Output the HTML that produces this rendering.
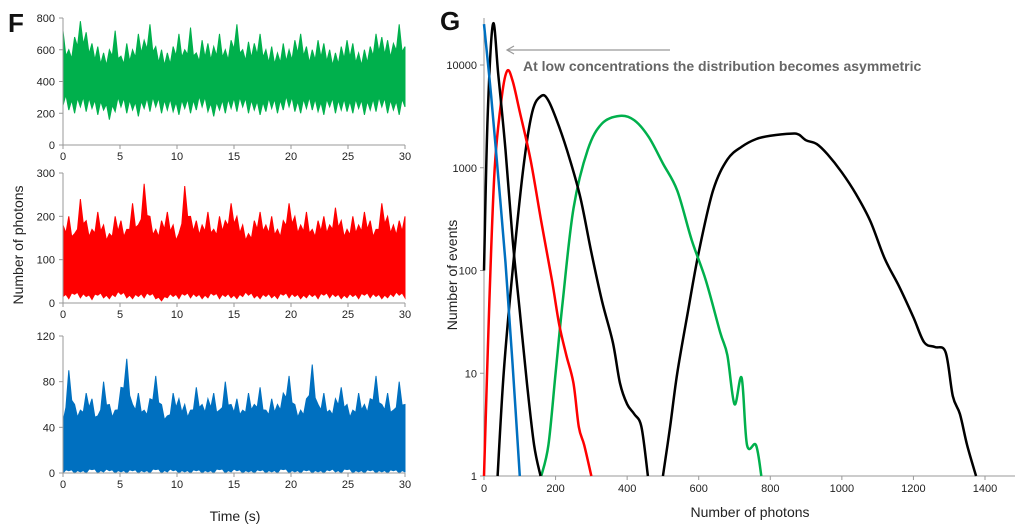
<!DOCTYPE html>
<html><head><meta charset="utf-8"><style>
body{margin:0;background:#fff;width:1024px;height:531px;overflow:hidden}
svg{display:block;font-family:"Liberation Sans",sans-serif}
</style></head><body>
<svg id="c" width="1024" height="531"></svg>
<script>
// ---- Panel F data (envelopes of time traces) ----
const timeTicks=[0,5,10,15,20,25,30];
const greenHi=[720,600,680,780,710,640,620,580,600,720,560,640,600,700,660,760,620,600,580,620,700,600,740,580,660,640,620,700,600,660,760,600,650,640,700,600,620,580,640,600,660,700,620,600,660,640,600,580,620,660,640,580,600,620,700,680,660,640,760,620];
const greenLo=[250,220,200,240,210,230,190,220,160,210,240,200,220,180,230,210,240,200,220,210,190,230,200,220,240,210,180,220,200,230,210,240,200,220,190,210,230,200,220,240,210,200,230,220,210,190,240,200,220,210,200,230,190,220,210,240,200,220,190,240];
const redHi=[180,200,160,240,190,170,210,180,160,200,190,170,230,180,275,200,170,190,210,180,160,270,200,190,180,210,170,200,190,230,200,180,160,190,210,180,200,170,190,230,200,180,210,170,190,200,180,220,190,170,200,180,210,190,170,230,200,180,190,200];
const redLo=[15,10,20,12,15,8,18,12,10,15,20,12,10,15,12,18,10,5,12,15,10,18,12,15,10,12,18,10,15,12,10,15,18,12,10,15,12,10,18,12,15,10,12,15,10,18,12,15,10,12,15,10,18,12,15,10,12,15,18,12];
const blueHi=[45,90,60,55,70,65,50,80,60,55,75,100,60,70,55,65,85,60,50,70,65,60,55,75,60,65,70,55,80,60,65,55,70,60,75,55,65,60,70,85,60,55,65,95,60,70,55,65,75,60,55,70,60,65,85,60,70,55,80,60];
const blueLo=[0,2,0,1,0,3,0,1,2,0,1,0,2,0,1,0,3,0,1,2,0,1,0,2,0,1,0,3,0,1,2,0,1,0,2,0,1,0,3,0,1,0,2,0,1,0,2,1,0,3,0,1,0,2,0,1,0,2,0,1];
// ---- Panel G data (histograms, log scale) ----
const blueX=[0,20,40,60,80,100];
const blueY=[25000,5000,800,120,12,1];
const black1X=[0,10,25,40,60,80,100,120,140,158];
const black1Y=[100,3000,25000,8000,1500,200,40,8,2,1];
const redX=[0,15,30,50,65,80,100,130,160,190,210,230,250,265,280,300];
const redY=[1,50,1000,5000,8800,7000,3500,1200,300,80,30,15,8,3,2,1];
const black2X=[38,55,80,110,135,160,180,210,240,270,300,330,360,380,400,420,440,458];
const black2Y=[1,10,100,1000,3500,5000,4500,2500,1200,500,150,50,20,8,5,4,3,1];
const greenX=[160,180,200,220,250,290,330,380,420,460,500,540,580,620,660,680,700,720,735,760,775];
const greenY=[1,2,10,50,400,1500,2700,3200,2900,2000,1100,600,200,80,25,15,5,9,2,2,1];
const black3X=[500,520,540,570,600,640,680,720,760,800,860,880,900,930,960,1000,1040,1080,1120,1160,1200,1230,1260,1290,1310,1330,1350,1375];
const black3Y=[1,3,10,40,150,600,1200,1600,1900,2050,2150,2100,1850,1700,1350,900,550,300,130,70,35,20,18,16,6,4,2,1];
const photonTicks=[0,200,400,600,800,1000,1200,1400];
const eventTicks=[1,10,100,1000,10000];

const NS='http://www.w3.org/2000/svg',svg=document.getElementById('c');
function mk(t,a,p){const e=document.createElementNS(NS,t);for(const k in a)e.setAttribute(k,a[k]);(p||svg).appendChild(e);return e;}
function txt(s,a,name){const e=mk('text',a);e.textContent=s;


return e;}
function smooth(P){let d='M'+P[0][0]+','+P[0][1];
 for(let i=0;i<P.length-1;i++){const p0=P[i-1]||P[i],p1=P[i],p2=P[i+1],p3=P[i+2]||p2;
  const c1=[p1[0]+(p2[0]-p0[0])/6,p1[1]+(p2[1]-p0[1])/6],c2=[p2[0]-(p3[0]-p1[0])/6,p2[1]-(p3[1]-p1[1])/6];
  d+=' C'+c1+' '+c2+' '+p2;}
 return d;}

// Panel F
const fx=t=>63+t*(405-63)/30;
const panels=[
 {y0:145,ytop:18,max:800,ticks:[0,200,400,600,800],hi:greenHi,lo:greenLo,col:'#00b04c',name:'green'},
 {y0:303,ytop:173,max:300,ticks:[0,100,200,300],hi:redHi,lo:redLo,col:'#ff0000',name:'red'},
 {y0:473,ytop:336,max:120,ticks:[0,40,80,120],hi:blueHi,lo:blueLo,col:'#0070c0',name:'blue'}];
panels.forEach(p=>{
 const fy=v=>p.y0-v*(p.y0-p.ytop)/p.max;
 const n=p.hi.length;let pts=[];
 for(let i=0;i<n;i++){const t=i*30/(n-1);pts.push(fx(t)+','+fy(p.hi[i]));if(i<n-1)pts.push(fx(t+15/(n-1))+','+fy((p.hi[i]+p.hi[i+1])/2*0.85));}
 for(let i=n-1;i>=0;i--){const t=i*30/(n-1);pts.push(fx(t)+','+fy(p.lo[i]));if(i>0)pts.push(fx(t-15/(n-1))+','+fy((p.lo[i]+p.lo[i-1])/2*1.3+10*p.max/800));}
 const tr=mk('polygon',{points:pts.join(' '),fill:p.col,stroke:p.col,'stroke-width':1});
 
 
 mk('line',{x1:63,y1:p.ytop,x2:63,y2:p.y0,stroke:'#999'});
 mk('line',{x1:63,y1:p.y0,x2:405,y2:p.y0,stroke:'#999'});
 p.ticks.forEach(v=>{mk('line',{x1:59,x2:63,y1:fy(v),y2:fy(v),stroke:'#999'});
  txt(v,{x:55,y:fy(v)+4,'text-anchor':'end','font-size':11,fill:'#222'},'y-tick-label');});
 timeTicks.forEach(t=>{mk('line',{x1:fx(t),x2:fx(t),y1:p.y0,y2:p.y0+4,stroke:'#999'});
  txt(t,{x:fx(t),y:p.y0+15,'text-anchor':'middle','font-size':11,fill:'#222'},'x-tick-label');});
});
txt('F',{x:8,y:32,'font-size':26,'font-weight':'bold',fill:'#111'},'panel-f-label');
txt('Number of photons',{x:0,y:0,'font-size':14,fill:'#222','text-anchor':'middle',transform:'translate(23,245) rotate(-90)'},'y-axis-title-f');
txt('Time (s)',{x:235,y:521,'font-size':14,fill:'#222','text-anchor':'middle'},'x-axis-title-f');

// Panel G
const gx=v=>484+v*(985-484)/1400;
const gy=v=>476-Math.log10(v)*102.75;
mk('line',{x1:484,y1:18,x2:484,y2:476,stroke:'#999'});
mk('line',{x1:484,y1:476,x2:1015,y2:476,stroke:'#999'});
eventTicks.forEach(v=>{mk('line',{x1:480,x2:484,y1:gy(v),y2:gy(v),stroke:'#999'});
 txt(v,{x:477,y:gy(v)+4,'text-anchor':'end','font-size':11,fill:'#222'},'y-tick-label');});
photonTicks.forEach(v=>{mk('line',{x1:gx(v),x2:gx(v),y1:476,y2:480,stroke:'#999'});
 txt(v,{x:gx(v),y:492,'text-anchor':'middle','font-size':11,fill:'#222'},'x-tick-label');});
[[black3X,black3Y,'#000','black-curve-3'],[greenX,greenY,'#00b04c','green-curve'],[black2X,black2Y,'#000','black-curve-2'],[redX,redY,'#ff0000','red-curve'],[black1X,black1Y,'#000','black-curve-1'],[blueX,blueY,'#0070c0','blue-curve']].forEach(([X,Y,c,n])=>{
 const l=mk('path',{d:smooth(X.map((x,i)=>[gx(x),gy(Y[i])])),fill:'none',stroke:c,'stroke-width':2.5,'stroke-linejoin':'round'});
 
 
});
txt('G',{x:440,y:30,'font-size':26,'font-weight':'bold',fill:'#111'},'panel-g-label');
const ar=mk('line',{x1:670,y1:50,x2:508,y2:50,stroke:'#999','stroke-width':1.2});


mk('polyline',{points:'514,46 507,50 514,54',fill:'none',stroke:'#999','stroke-width':1.2});
txt('At low concentrations the distribution becomes asymmetric',{x:523,y:71,'font-size':14,'font-weight':'bold',fill:'#666'},'annotation-text');
txt('Number of events',{x:0,y:0,'font-size':14,fill:'#222','text-anchor':'middle',transform:'translate(457,275) rotate(-90)'},'y-axis-title-g');
txt('Number of photons',{x:750,y:517,'font-size':14,fill:'#222','text-anchor':'middle'},'x-axis-title-g');
</script>
</body></html>
